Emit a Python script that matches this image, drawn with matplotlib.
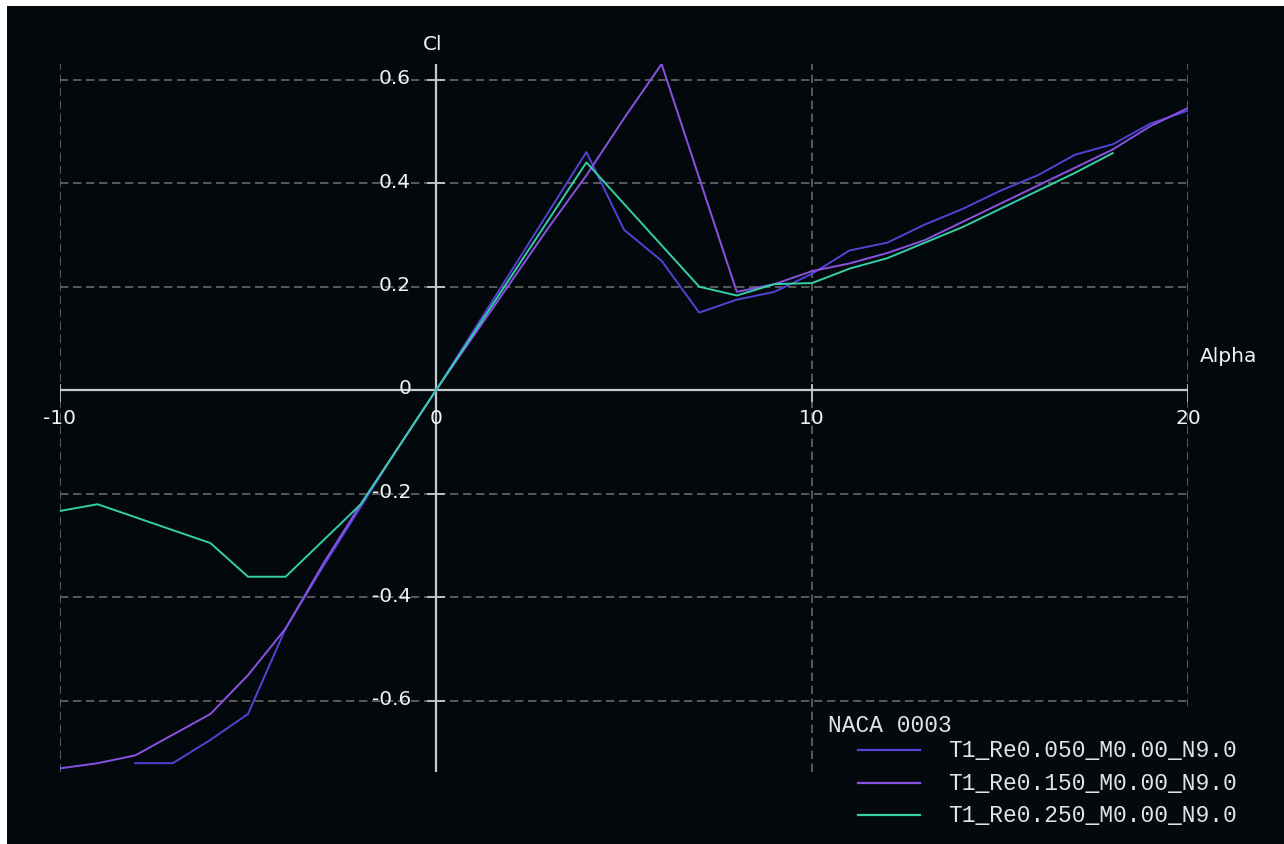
import matplotlib
matplotlib.use("Agg")
import matplotlib.pyplot as plt
from matplotlib.lines import Line2D
from matplotlib.patches import Rectangle

# ---- polar data: NACA 0003, lift coefficient vs angle of attack ----
alpha_re050 = [-8, -7, -6, -5, -4, -3, -2, -1, 0, 1, 2, 3, 4, 5, 6, 7, 8, 9, 10,
               11, 12, 13, 14, 15, 16, 17, 18, 19, 20]
cl_re050 = [-0.72, -0.72, -0.675, -0.625, -0.46, -0.34, -0.225, -0.11, 0.0, 0.115,
            0.23, 0.345, 0.46, 0.31, 0.25, 0.15, 0.175, 0.19, 0.225,
            0.27, 0.285, 0.32, 0.35, 0.385, 0.415, 0.455, 0.475, 0.515, 0.54]

alpha_re150 = [-10, -9, -8, -7, -6, -5, -4, -3, -2, -1, 0, 1, 2, 3, 4, 5, 6, 7, 8,
               9, 10, 11, 12, 13, 14, 15, 16, 17, 18, 19, 20]
cl_re150 = [-0.73, -0.72, -0.705, -0.665, -0.625, -0.55, -0.46, -0.335, -0.22, -0.11,
            0.0, 0.105, 0.21, 0.315, 0.415, 0.525, 0.63, 0.41, 0.19,
            0.205, 0.23, 0.245, 0.265, 0.29, 0.325, 0.36, 0.395, 0.43, 0.465, 0.51, 0.545]

alpha_re250 = [-10, -9, -8, -7, -6, -5, -4, -3, -2, -1, 0, 1, 2, 3, 4, 5, 6, 7, 8,
               9, 10, 11, 12, 13, 14, 15, 16, 17, 18]
cl_re250 = [-0.233, -0.22, -0.245, -0.27, -0.295, -0.36, -0.36, -0.29, -0.22, -0.11,
            0.0, 0.11, 0.22, 0.33, 0.44, 0.36, 0.28, 0.2, 0.183,
            0.205, 0.207, 0.235, 0.255, 0.285, 0.315, 0.35, 0.385, 0.42, 0.458]

series_labels = ["T1_Re0.050_M0.00_N9.0", "T1_Re0.150_M0.00_N9.0", "T1_Re0.250_M0.00_N9.0"]
series_colors = ["#5044d4", "#8a52e2", "#34cfa6"]
legend_title = "NACA 0003"

x_ticks = [-10, 0, 10, 20]
x_tick_labels = ["-10", "0", "10", "20"]
y_ticks = [-0.6, -0.4, -0.2, 0.0, 0.2, 0.4, 0.6]
y_tick_labels = ["-0.6", "-0.4", "-0.2", "0", "0.2", "0.4", "0.6"]
x_grid = [-10, 10, 20]
y_grid = [-0.6, -0.4, -0.2, 0.2, 0.4, 0.6]

# ---- figure layout ----
W, H = 1284, 845
bg = "#03080d"
grid_col = "#686868"
axis_col = "#c8c8c8"
text_col = "#f2f2f2"


def fx(px):
    return px / W


def fy(py):
    return 1 - py / H


fig = plt.figure(figsize=(W / 100, H / 100), dpi=100, facecolor=bg)
# thin light margin along the top and left edges
fig.patches.append(Rectangle((0, fy(7)), 1, 7 / H, transform=fig.transFigure,
                             facecolor="white", edgecolor="none", zorder=0))
fig.patches.append(Rectangle((0, 0), 7 / W, 1, transform=fig.transFigure,
                             facecolor="white", edgecolor="none", zorder=0))

ax = fig.add_axes([fx(60), fy(773), (1188 - 60) / W, (773 - 65) / H])
ax.set_facecolor(bg)
ax.set_xlim(-10, 20)
ax.set_ylim(-0.737, 0.63)
ax.axis("off")

dash = (0, (5, 2.8))
ax.vlines(x_grid, -0.737, 0.63, colors=grid_col, linewidth=1.2, linestyles=dash, zorder=1)
ax.hlines(y_grid, -10, 20, colors=grid_col, linewidth=1.2, linestyles=dash, zorder=1)

# main axes through the origin
ax.plot([-10, 20], [0, 0], color=axis_col, linewidth=1.6, zorder=2, solid_capstyle="butt")
ax.plot([0, 0], [-0.737, 0.63], color=axis_col, linewidth=1.6, zorder=2, solid_capstyle="butt")

# tick marks
for xv in x_ticks:
    ax.plot([xv, xv], [-0.02, 0.01], color=axis_col, linewidth=1.3, zorder=2)
for yv in y_ticks:
    ax.plot([-0.22, 0.22], [yv, yv], color=axis_col, linewidth=1.3, zorder=2)

# curves
for a, c, col in zip([alpha_re050, alpha_re150, alpha_re250],
                     [cl_re050, cl_re150, cl_re250], series_colors):
    ax.plot(a, c, color=col, linewidth=1.4, zorder=3)

# tick labels
for xv, lab in zip(x_ticks, x_tick_labels):
    ax.annotate(lab, xy=(xv, 0), xytext=(0, -19.5), textcoords="offset points",
                ha="center", va="center", color=text_col, fontsize=14.5, zorder=4)
for yv, lab in zip(y_ticks, y_tick_labels):
    ax.annotate(lab, xy=(0, yv), xytext=(-18, 1.5 if yv != 0 else 2.0),
                textcoords="offset points", ha="right", va="center",
                color=text_col, fontsize=14.5, zorder=4)

# axis titles
fig.text(fx(433), fy(45), "Cl", ha="center", va="center", color=text_col, fontsize=14.5)
fig.text(fx(1200), fy(357), "Alpha", ha="left", va="center", color=text_col, fontsize=14.5)

# legend block in the lower right corner
fig.patches.append(Rectangle((fx(815), 0), 1 - fx(815), fy(707), transform=fig.transFigure,
                             facecolor="#04090e", edgecolor="none", zorder=5))
mono = "Liberation Mono"
fig.text(fx(828), fy(726), legend_title, ha="left", va="center", color="#e4e4e4",
         fontsize=16.5, family=mono, zorder=6)
for i, (lab, col) in enumerate(zip(series_labels, series_colors)):
    ypx = 751 + i * 32.5
    fig.add_artist(Line2D([fx(858), fx(920)], [fy(ypx), fy(ypx)], color=col,
                          linewidth=1.6, transform=fig.transFigure, zorder=6))
    fig.text(fx(948), fy(ypx), lab, ha="left", va="center", color="#e4e4e4",
             fontsize=16.5, family=mono, zorder=6)

fig.savefig("out.png", dpi=100, facecolor=bg)
